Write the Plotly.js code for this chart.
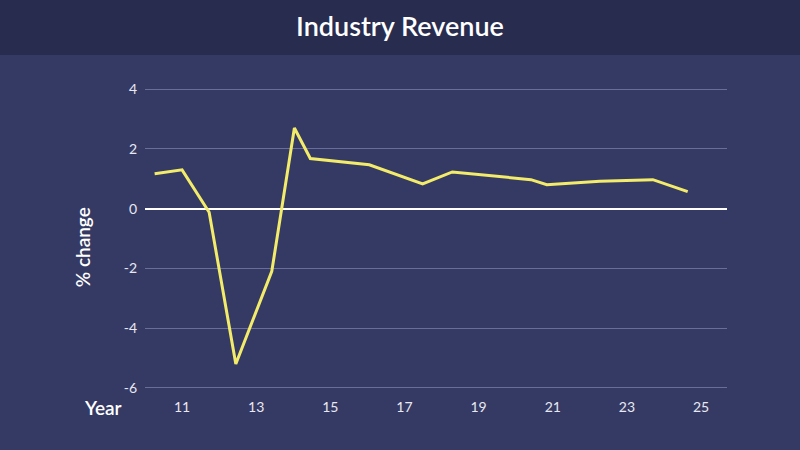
<!DOCTYPE html>
<html>
<head>
<meta charset="utf-8">
<script src="https://cdn.plot.ly/plotly-3.0.1.min.js"></script>
<style>html,body{margin:0;padding:0;background:#353a64;}#chart{width:800px;height:450px;}</style>
</head>
<body>
<div id="chart"></div>
<script>
// Data
const years = [10.26, 11.0, 11.73, 12.45, 13.42, 14.03, 14.46, 16.05, 17.49, 18.29, 20.41, 20.84, 22.27, 23.70, 24.64];
const pctChange = [1.17, 1.30, -0.12, -5.2, -2.1, 2.7, 1.68, 1.47, 0.83, 1.23, 0.97, 0.80, 0.92, 0.97, 0.57];
const xTickVals = [11, 13, 15, 17, 19, 21, 23, 25];
const xTickText = ['11', '13', '15', '17', '19', '21', '23', '25'];
const yTickVals = [-6, -4, -2, 0, 2, 4];
const yTickText = ['-6', '-4', '-2', '0', '2', '4'];
const chartTitle = 'Industry Revenue';
const xLabel = 'Year';
const yLabel = '% change';

const FONT = 'Lato, "Open Sans", sans-serif';

const trace = {
  x: years,
  y: pctChange,
  type: 'scatter',
  mode: 'lines',
  line: {color: '#f3ec6b', width: 3},
  hoverinfo: 'x+y'
};

const layout = {
  width: 800,
  height: 450,
  margin: {l: 145, r: 73, t: 88, b: 61},
  paper_bgcolor: '#353a64',
  plot_bgcolor: '#353a64',
  showlegend: false,
  title: {
    text: chartTitle,
    font: {family: FONT, size: 27, color: '#ffffff', weight: 600},
    x: 0.5, xref: 'container', xanchor: 'center',
    y: 0.94, yref: 'container', yanchor: 'middle'
  },
  xaxis: {
    range: [10, 25.7],
    tickmode: 'array',
    tickvals: xTickVals,
    ticktext: xTickText,
    showgrid: false,
    zeroline: false,
    showline: false,
    ticks: 'outside',
    ticklen: 5,
    tickcolor: 'rgba(0,0,0,0)',
    tickfont: {family: FONT, size: 14, color: '#e8e8f2'},
    fixedrange: true
  },
  yaxis: {
    range: [-6.04, 4.04],
    tickmode: 'array',
    tickvals: yTickVals,
    ticktext: yTickText,
    showgrid: true,
    gridcolor: '#686d9a',
    gridwidth: 1,
    zeroline: true,
    zerolinecolor: '#ffffff',
    zerolinewidth: 1.5,
    showline: false,
    ticks: 'outside',
    ticklen: 4,
    tickcolor: 'rgba(0,0,0,0)',
    tickfont: {family: FONT, size: 14, color: '#e8e8f2'},
    fixedrange: true
  },
  shapes: [{
    type: 'rect', xref: 'paper', yref: 'paper',
    x0: -0.3, x1: 1.2, y0: (389 - 55) / 301, y1: 1.35,
    fillcolor: '#282d50', line: {width: 0}, layer: 'below'
  }],
  annotations: [
    {
      text: xLabel, xref: 'paper', yref: 'paper',
      x: -0.036, y: -0.063, xanchor: 'right', yanchor: 'middle',
      showarrow: false,
      font: {family: FONT, size: 19, color: '#ffffff', weight: 600}
    },
    {
      text: yLabel, xref: 'paper', yref: 'paper',
      x: -0.107, y: 0.47, xanchor: 'center', yanchor: 'middle',
      textangle: -90, showarrow: false,
      font: {family: FONT, size: 19, color: '#ffffff', weight: 600}
    }
  ]
};

Plotly.newPlot('chart', [trace], layout, {displayModeBar: false, staticPlot: false});
</script>
</body>
</html>
